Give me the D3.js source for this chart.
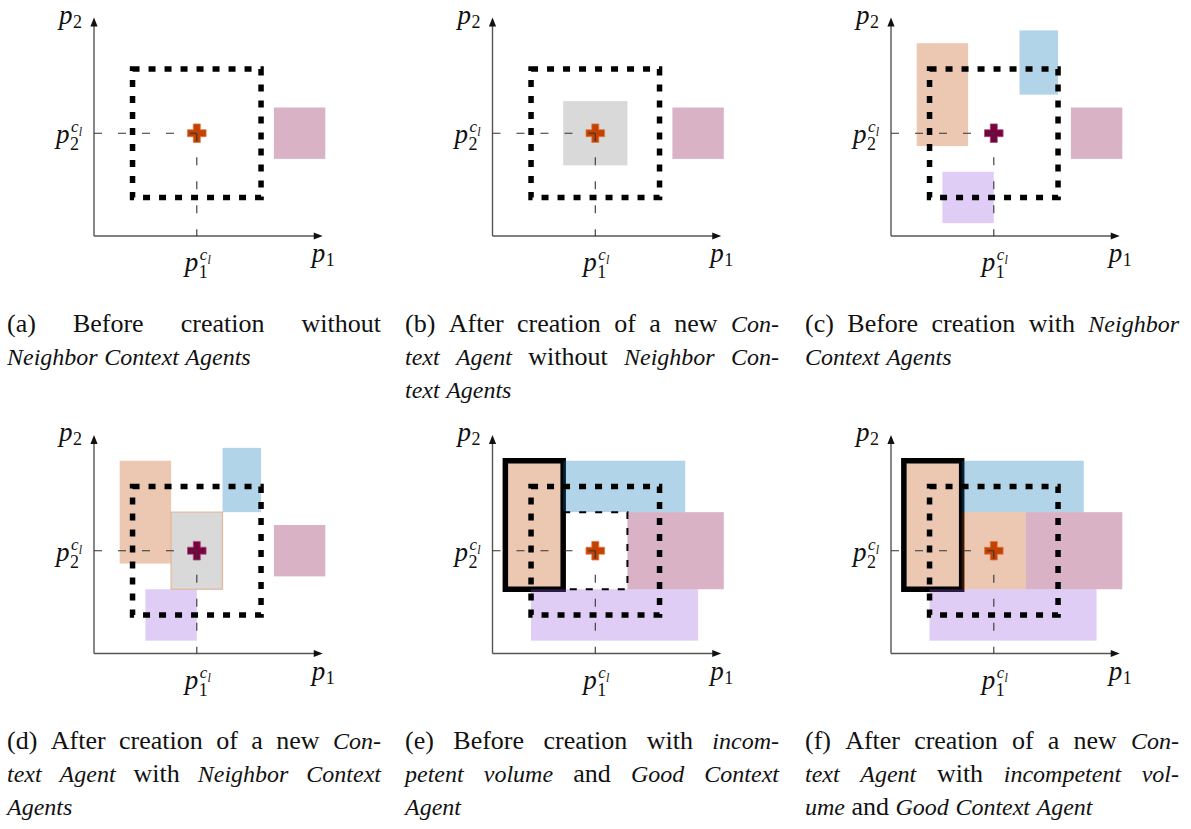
<!DOCTYPE html>
<html><head><meta charset="utf-8">
<script src="https://cdn.jsdelivr.net/npm/d3@7"></script>
<style>body{margin:0;background:#fff}svg{display:block}</style>
</head><body>
<svg id="chart" width="1191" height="829"></svg>
<script>
// ---------------- data (in the figure's own units) ----------------
const panelKeys = ["a", "b", "c", "d", "e", "f"];
const axisExtent = [4.45, 4.25];              // p1 max, p2 max
const contextCenter = [2, 2];                 // (p1^cl, p2^cl)
const searchBox = [0.75, 3.25, 0.75, 3.25];   // x0, x1, y0, y1
// agent rectangles: [kind, x0, x1, y0, y1]
const agentsA = [["pink", 3.5, 4.5, 1.5, 2.5]];
const agentsB = [["gray", 1.375, 2.625, 1.375, 2.625], ["pink", 3.5, 4.5, 1.5, 2.5]];
const agentsC = [["orange", 0.5, 1.5, 1.75, 3.75], ["blue", 2.5, 3.25, 2.75, 4.0],
                 ["purple", 1.0, 2.0, 0.25, 1.25], ["pink", 3.5, 4.5, 1.5, 2.5]];
const agentsD = [["orange", 0.5, 1.5, 1.75, 3.75], ["blue", 2.5, 3.25, 2.75, 4.0],
                 ["purple", 1.0, 2.0, 0.25, 1.25], ["pink", 3.5, 4.5, 1.5, 2.5],
                 ["grayNew", 1.5, 2.5, 1.25, 2.75]];
const agentsE = [["good", 0.25, 1.375, 1.25, 3.75], ["blue", 1.375, 3.75, 2.75, 3.75],
                 ["pink", 2.625, 4.5, 1.25, 2.75], ["purple", 0.75, 4.0, 0.25, 1.25]];
const agentsF = [["good", 0.25, 1.375, 1.25, 3.75], ["blue", 1.375, 3.75, 2.75, 3.75],
                 ["orange", 1.375, 2.625, 1.25, 2.75], ["pink", 2.625, 4.5, 1.25, 2.75],
                 ["purple", 0.75, 4.0, 0.25, 1.25]];
const incompetentE = [1.375, 2.625, 1.25, 2.75];
const markerTone = ["new", "new", "old", "old", "new", "new"];
// captions: *...* marks italic, flag = justified line
const captionsA = [["(a) Before creation without", true], ["*Neighbor Context Agents*", false]];
const captionsB = [["(b) After creation of a new *Con-*", true], ["*text Agent* without *Neighbor Con-*", true], ["*text Agents*", false]];
const captionsC = [["(c) Before creation with *Neighbor*", true], ["*Context Agents*", false]];
const captionsD = [["(d) After creation of a new *Con-*", true], ["*text Agent* with *Neighbor Context*", true], ["*Agents*", false]];
const captionsE = [["(e) Before creation with *incom-*", true], ["*petent volume* and *Good Context*", true], ["*Agent*", false]];
const captionsF = [["(f) After creation of a new *Con-*", true], ["*text Agent* with *incompetent vol-*", true], ["*ume* and *Good Context Agent*", false]];

const agentSets = [agentsA, agentsB, agentsC, agentsD, agentsE, agentsF];
const captionSets = [captionsA, captionsB, captionsC, captionsD, captionsE, captionsF];

// ---------------- styles / layout ----------------
const FONT = "'Liberation Serif', 'Times New Roman', serif";
const kindStyle = {
  pink:    {fill: "#800040", op: 0.3},
  gray:    {fill: "#808080", op: 0.3},
  grayNew: {fill: "#808080", op: 0.3, stroke: "#e3b79c", sw: 1.2},
  orange:  {fill: "#bf4500", op: 0.3},
  blue:    {fill: "#0072b2", op: 0.3},
  purple:  {fill: "#9458de", op: 0.3},
  good:    {fill: "#bf4500", op: 0.3, stroke: "#000", sw: 5.5}
};
const markerFill = {new: "#c44100", old: "#7a0040"};
const markerStroke = {new: "#dc7a4a", old: "#a0507a"};

const unit = 51.4;
const colX = [94, 492.5, 891];
const rowY = [236, 653.5];
const capX = [7, 405, 805];
const capW = 374;
const capBase = [332, 749];
const lineH = 33;

const x = d3.scaleLinear().domain([0, axisExtent[0]]).range([0, axisExtent[0] * unit]);
const y = d3.scaleLinear().domain([0, axisExtent[1]]).range([0, -axisExtent[1] * unit]);

const svg = d3.select("#chart");

function mathLabel(g, px, py, base, sub, sup, anchor) {
  const lg = g.append("g");
  const t = lg.append("text").attr("font-family", FONT).attr("font-style", "italic")
    .attr("font-size", 27).attr("fill", "#111").text(base);
  const pw = t.node().getComputedTextLength();
  const s = lg.append("text").attr("font-family", FONT).attr("font-size", 18).attr("fill", "#111")
    .attr("x", pw + 0.5).attr("y", sup ? 7 : 4).text(sub);
  let total = pw + 0.5 + s.node().getComputedTextLength();
  if (sup) {
    const c = lg.append("text").attr("font-family", FONT).attr("font-style", "italic")
      .attr("font-size", 17).attr("fill", "#111").attr("x", pw + 1.5).attr("y", -11).text(sup[0]);
    const cw = c.node().getComputedTextLength();
    const l = lg.append("text").attr("font-family", FONT).attr("font-style", "italic")
      .attr("font-size", 12).attr("fill", "#111").attr("x", pw + 1.5 + cw).attr("y", -7).text(sup[1]);
    total = Math.max(total, pw + 1.5 + cw + l.node().getComputedTextLength());
  }
  const dx = anchor === "end" ? -total : anchor === "middle" ? -total / 2 : 0;
  lg.attr("transform", `translate(${px + dx},${py})`);
}

function drawCaptionLine(x0, yb, str, justify) {
  const words = [];
  let italic = false;
  str.split(" ").forEach(w => {
    let it = italic, txt = w;
    if (txt.startsWith("*")) { it = true; txt = txt.slice(1); italic = true; }
    if (txt.endsWith("*")) { txt = txt.slice(0, -1); italic = false; }
    words.push({txt, it});
  });
  const nodes = words.map(w => svg.append("text").attr("font-family", FONT)
    .attr("font-size", w.it ? 24 : 26).attr("fill", "#111").attr("y", yb)
    .attr("font-style", w.it ? "italic" : "normal").text(w.txt));
  const widths = nodes.map(n => n.node().getComputedTextLength());
  const sum = d3.sum(widths);
  const gap = justify && words.length > 1 ? (capW - sum) / (words.length - 1) : 6.5;
  let cx = x0;
  nodes.forEach((n, i) => { n.attr("x", cx); cx += widths[i] + gap; });
}

panelKeys.forEach((key, i) => {
  const ox = colX[i % 3], oy = rowY[Math.floor(i / 3)];
  const g = svg.append("g").attr("transform", `translate(${ox},${oy})`);

  // axes
  g.append("line").attr("x1", 0).attr("y1", 0).attr("x2", x(axisExtent[0]) - 6).attr("y2", 0)
    .attr("stroke", "#555").attr("stroke-width", 1.4);
  g.append("line").attr("x1", 0).attr("y1", 0).attr("x2", 0).attr("y2", y(axisExtent[1]) + 6)
    .attr("stroke", "#555").attr("stroke-width", 1.4);
  const xt = x(axisExtent[0]), yt = y(axisExtent[1]);
  g.append("path").attr("d", `M${xt},0 L${xt - 9},-3.6 L${xt - 9},3.6 Z`).attr("fill", "#111");
  g.append("path").attr("d", `M0,${yt} L-3.6,${yt + 9} L3.6,${yt + 9} Z`).attr("fill", "#111");

  // agent rectangles
  agentSets[i].forEach(r => {
    const st = kindStyle[r[0]];
    const rect = g.append("rect")
      .attr("x", x(r[1])).attr("y", y(r[4]))
      .attr("width", x(r[2]) - x(r[1])).attr("height", y(r[3]) - y(r[4]))
      .attr("fill", st.fill).attr("fill-opacity", st.op);
    if (st.stroke) rect.attr("stroke", st.stroke).attr("stroke-width", st.sw);
  });

  // incompetent volume outline (panel e)
  if (key === "e") {
    const v = incompetentE;
    g.append("path")
      .attr("d", `M${x(v[0])},${y(v[3])} L${x(v[1])},${y(v[3])} L${x(v[1])},${y(v[2])} L${x(v[0])},${y(v[2])}`)
      .attr("fill", "none").attr("stroke", "#000").attr("stroke-width", 2)
      .attr("stroke-dasharray", "7,9");
  }

  // search box (heavy dashed)
  g.append("rect")
    .attr("x", x(searchBox[0])).attr("y", y(searchBox[3]))
    .attr("width", x(searchBox[1]) - x(searchBox[0])).attr("height", y(searchBox[2]) - y(searchBox[3]))
    .attr("fill", "none").attr("stroke", "#000").attr("stroke-width", 5.5)
    .attr("stroke-dasharray", "7,9");

  // marker (plus)
  const cx = x(contextCenter[0]), cy = y(contextCenter[1]);
  const a = 9.3, b = 3.5;
  g.append("path")
    .attr("d", `M${cx - b},${cy - a} H${cx + b} V${cy - b} H${cx + a} V${cy + b} H${cx + b} V${cy + a} H${cx - b} V${cy + b} H${cx - a} V${cy - b} H${cx - b} Z`)
    .attr("fill", markerFill[markerTone[i]]).attr("stroke", markerStroke[markerTone[i]]).attr("stroke-width", 0.8);

  // guide lines
  g.append("line").attr("x1", 0).attr("y1", cy).attr("x2", cx).attr("y2", cy)
    .attr("stroke", "#333").attr("stroke-width", 1.1).attr("stroke-dasharray", "8,16");
  g.append("line").attr("x1", cx).attr("y1", cy).attr("x2", cx).attr("y2", 0)
    .attr("stroke", "#333").attr("stroke-width", 1.1).attr("stroke-dasharray", "8,16");

  // labels
  mathLabel(g, -12, yt + 6, "p", "2", null, "end");
  mathLabel(g, xt - 11, 26, "p", "1", null, "start");
  mathLabel(g, cx + 1, 35, "p", "1", ["c", "l"], "middle");
  mathLabel(g, -12, cy + 10, "p", "2", ["c", "l"], "end");

  // caption
  const bx = capX[i % 3], by = capBase[Math.floor(i / 3)];
  captionSets[i].forEach((ln, j) => drawCaptionLine(bx, by + j * lineH, ln[0], ln[1]));
});
</script>
</body></html>
